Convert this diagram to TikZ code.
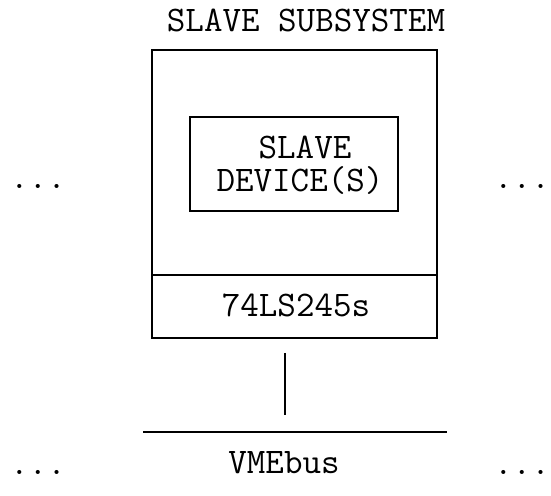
\documentclass[tikz,border=0pt]{standalone}
\begin{document}
\begin{tikzpicture}[x=1pt,y=1pt,
  every node/.style={font=\ttfamily\fontsize{36}{38.5}\selectfont, inner sep=0pt, outer sep=0pt},
  box/.style={draw, line width=1.4pt, rectangle},
  txt/.style={anchor=base},
  wire/.style={line width=1.4pt}]
\useasboundingbox (0,0) rectangle (551,495);
% boxes
\node[box, minimum width=285pt, minimum height=225pt] (sub) at (294.5,332.5) {};
\node[box, minimum width=285pt, minimum height=63pt] (buf) at (294.5,188.5) {};
\node[box, minimum width=208pt, minimum height=94pt] (dev) at (294,331) {};
% texts
\node[txt] (title) at (306,463) {SLAVE SUBSYSTEM};
\node[txt] (devA) at (305,336) {SLAVE};
\node[txt] (devB) at (300,303) {DEVICE(S)};
\node[txt] (buft) at (296,178) {74LS245s};
\node[txt] (bust) at (284,22) {VMEbus};
\node[txt] (dotsUL) at (38,306) {...};
\node[txt] (dotsUR) at (522,306) {...};
\node[txt] (dotsLL) at (38,21) {...};
\node[txt] (dotsLR) at (522,21) {...};
% bus
\coordinate (busL) at (143,63);
\coordinate (busR) at (447,63);
\coordinate (tapT) at (285,142);
\coordinate (tapB) at (285,80);
\draw[wire] (busL) -- (busR);
\draw[wire] (tapT) -- (tapB);
\end{tikzpicture}
\end{document}
